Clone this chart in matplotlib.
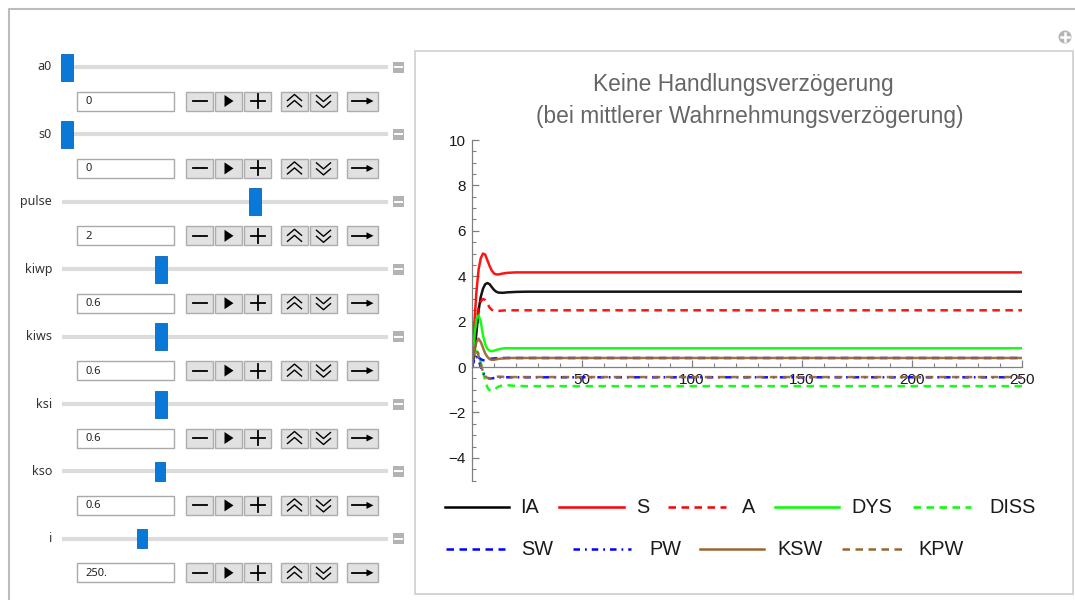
import matplotlib
matplotlib.use("Agg")
import matplotlib.pyplot as plt
from matplotlib.patches import Rectangle, Polygon, Circle
from matplotlib.lines import Line2D

# ---------------- data ----------------
t = [0, 1, 2, 3, 4, 5, 6, 7, 8, 9, 10, 11, 12, 14, 16, 20, 25, 30, 40, 250]
IA = [0, 0.5, 1.5, 2.5, 3.1, 3.45, 3.65, 3.7, 3.65, 3.52, 3.4, 3.32, 3.28, 3.27, 3.29, 3.31, 3.32, 3.32, 3.32, 3.32]
S = [0, 1.8, 3.3, 4.3, 4.8, 5.0, 4.95, 4.7, 4.45, 4.25, 4.12, 4.08, 4.08, 4.12, 4.15, 4.17, 4.17, 4.17, 4.17, 4.17]
A = [0, 1.2, 2.0, 2.6, 2.9, 3.0, 2.95, 2.8, 2.62, 2.52, 2.47, 2.46, 2.47, 2.49, 2.5, 2.5, 2.5, 2.5, 2.5, 2.5]
DYS = [0, 1.3, 2.1, 2.28, 2.0, 1.4, 1.0, 0.8, 0.72, 0.7, 0.72, 0.75, 0.78, 0.82, 0.83, 0.83, 0.83, 0.83, 0.83, 0.83]
DISS = [0, 0.5, 0.7, 0.6, 0.2, -0.2, -0.6, -0.9, -1.02, -1.05, -1.0, -0.93, -0.86, -0.8, -0.8, -0.83, -0.84, -0.84, -0.84, -0.84]
SW = [0, 0.35, 0.45, 0.42, 0.35, 0.3, 0.3, 0.32, 0.35, 0.37, 0.38, 0.39, 0.4, 0.4, 0.4, 0.4, 0.4, 0.4, 0.4, 0.4]
PW = [0, 0.4, 0.45, 0.3, 0.0, -0.25, -0.4, -0.47, -0.5, -0.5, -0.48, -0.46, -0.45, -0.45, -0.45, -0.45, -0.45, -0.45, -0.45, -0.45]
KSW = [0, 0.7, 1.1, 1.25, 1.1, 0.85, 0.6, 0.45, 0.35, 0.32, 0.32, 0.34, 0.36, 0.38, 0.4, 0.4, 0.4, 0.4, 0.4, 0.4]
KPW = [0, 0.9, 0.8, 0.5, 0.1, -0.2, -0.4, -0.48, -0.5, -0.5, -0.47, -0.44, -0.42, -0.43, -0.44, -0.44, -0.44, -0.44, -0.44, -0.44]

series_names = ["IA", "S", "A", "DYS", "DISS", "SW", "PW", "KSW", "KPW"]
x_ticks = [50, 100, 150, 200, 250]
y_ticks = [-4, -2, 0, 2, 4, 6, 8, 10]

title_lines = ["Keine Handlungsverzögerung", "(bei mittlerer Wahrnehmungsverzögerung)"]

slider_labels = ["a0", "s0", "pulse", "kiwp", "kiws", "ksi", "kso", "i"]
slider_values = ["0", "0", "2", "0.6", "0.6", "0.6", "0.6", "250."]
slider_fracs = [0.0, 0.0, 0.597, 0.298, 0.298, 0.298, 0.295, 0.238]

# ---------------- styles ----------------
BROWN = "#996633"
DASH = (0, (3, 2.2))
DASHDOT = (0, (2.6, 2.0, 0.7, 2.0))
styles = {
    "IA": dict(color="black", ls="-"),
    "S": dict(color="#ff0000", ls="-"),
    "A": dict(color="#ff0000", ls=DASH),
    "DYS": dict(color="#00ff00", ls="-"),
    "DISS": dict(color="#00ff00", ls=DASH),
    "SW": dict(color="#0000ff", ls=DASH),
    "PW": dict(color="#0000ff", ls=DASHDOT),
    "KSW": dict(color=BROWN, ls="-"),
    "KPW": dict(color=BROWN, ls=DASH),
}
data = {"IA": IA, "S": S, "A": A, "DYS": DYS, "DISS": DISS,
        "SW": SW, "PW": PW, "KSW": KSW, "KPW": KPW}

W, H = 1075, 600
fig = plt.figure(figsize=(W / 100, H / 100), dpi=100)
fig.patch.set_facecolor("white")

# background "pixel" axes for the UI
bg = fig.add_axes([0, 0, 1, 1], zorder=0)
bg.set_xlim(0, W)
bg.set_ylim(H, 0)
bg.axis("off")

# outer frame
bg.plot([8.5, 8.5, W], [H, 8.5, 8.5], color="#bcbcbc", lw=1.5, solid_capstyle="butt")

# plot panel frame (with slight shadow)
bg.add_patch(Rectangle((416, 52), 658, 543, facecolor="#e6e6e6", edgecolor="none"))
bg.add_patch(Rectangle((414.5, 50.5), 658, 543, facecolor="white", edgecolor="#cfcfcf", lw=1.2))

# plus icon
bg.add_patch(Circle((1065, 37), 6.5, facecolor="#b4b4b4", edgecolor="none"))
bg.plot([1061, 1069], [37, 37], color="white", lw=1.8)
bg.plot([1065, 1065], [33, 41], color="white", lw=1.8)

UI_FONT = ["Noto Sans", "DejaVu Sans"]
row_y0, row_dy = 67, 67.4
for k, (lab, val, fr) in enumerate(zip(slider_labels, slider_values, slider_fracs)):
    ys = row_y0 + k * row_dy
    bg.text(52, ys, lab, ha="right", va="center", fontsize=9, color="#333333", family=UI_FONT)
    # track
    bg.plot([62, 388], [ys, ys], color="#dcdcdc", lw=3, solid_capstyle="butt", zorder=1)
    # thumb
    small = lab in ("kso", "i")
    tw, th = (10, 19) if small else (12, 27)
    cx = 67 + fr * (382 - 67)
    bg.add_patch(Rectangle((cx - tw / 2, ys - th / 2), tw, th, facecolor="#0a78d7",
                           edgecolor="#0a66b8", lw=0.6, zorder=3))
    # minus icon at right
    bg.add_patch(Rectangle((392.5, ys - 5.5), 11, 11, facecolor="#b3b3b3", edgecolor="none", zorder=2))
    bg.plot([394.5, 401.5], [ys, ys], color="white", lw=1.4, zorder=3)
    # value text box
    by0, bh = ys + 24.5, 19
    bg.add_patch(Rectangle((77, by0), 97, bh, facecolor="white", edgecolor="#a9a9a9", lw=1, zorder=2))
    bg.text(85, by0 + bh / 2 + 0.5, val, ha="left", va="center", fontsize=8,
            color="#222222", family=UI_FONT, zorder=3)
    cy = by0 + bh / 2
    buttons = [(186, 213), (215, 242), (244, 271), (281, 308), (310, 337), (347, 378)]
    for (x0, x1) in buttons:
        bg.add_patch(Rectangle((x0, by0), x1 - x0, bh, facecolor="#e1e1e1", edgecolor="#adadad",
                               lw=1, zorder=2))
    # minus
    c = (186 + 213) / 2
    bg.plot([c - 7, c + 7], [cy, cy], color="black", lw=1.3, zorder=3)
    # play
    c = (215 + 242) / 2
    bg.add_patch(Polygon([(c - 4, cy - 6), (c - 4, cy + 6), (c + 5, cy)], closed=True,
                         facecolor="black", edgecolor="none", zorder=3))
    # plus
    c = (244 + 271) / 2
    bg.plot([c - 7, c + 7], [cy, cy], color="black", lw=1.3, zorder=3)
    bg.plot([c, c], [cy - 7, cy + 7], color="black", lw=1.3, zorder=3)
    # double up
    c = (281 + 308) / 2
    for dy in (-2.5, 3.5):
        bg.plot([c - 7, c, c + 7], [cy + dy + 2, cy + dy - 4, cy + dy + 2], color="black", lw=1.0, zorder=3)
    # double down
    c = (310 + 337) / 2
    for dy in (-3.5, 2.5):
        bg.plot([c - 7, c, c + 7], [cy + dy - 2, cy + dy + 4, cy + dy - 2], color="black", lw=1.0, zorder=3)
    # arrow
    c = (347 + 378) / 2
    bg.plot([c - 11, c + 6], [cy, cy], color="black", lw=1.3, zorder=3)
    bg.add_patch(Polygon([(c + 4, cy - 3.5), (c + 4, cy + 3.5), (c + 11, cy)], closed=True,
                         facecolor="black", edgecolor="none", zorder=3))

# ---------------- plot axes ----------------
PLOT_FONT = ["Liberation Sans", "DejaVu Sans"]
x_left, x_right, y_top, y_bot = 472, 1022, 140, 480.6
ax = fig.add_axes([x_left / W, 1 - y_bot / H, (x_right - x_left) / W, (y_bot - y_top) / H], zorder=2)
ax.patch.set_alpha(0)

for name in series_names:
    st = styles[name]
    ax.plot(t, data[name], color=st["color"], ls=st["ls"], lw=1.8, alpha=0.92)

ax.set_xlim(0, 250)
ax.set_ylim(-5, 10)
for sp in ("top", "right"):
    ax.spines[sp].set_visible(False)
ax.spines["bottom"].set_position(("data", 0))
for sp in ("bottom", "left"):
    ax.spines[sp].set_color("#808080")
    ax.spines[sp].set_linewidth(0.9)

ax.set_xticks(x_ticks)
ax.set_xticks(list(range(10, 251, 10)), minor=True)
ax.set_yticks(y_ticks)
ax.set_yticks([v / 2 for v in range(-10, 21)], minor=True)
ax.set_xticklabels([str(v) for v in x_ticks])
ax.set_yticklabels([str(v).replace("-", "\u2212") for v in y_ticks])
ax.tick_params(which="major", direction="in", length=5, width=0.9, color="#808080",
               labelsize=11, labelcolor="#1a1a1a", pad=4.5)
ax.tick_params(which="minor", direction="in", length=2.6, width=0.8, color="#808080")
for lbl in ax.get_xticklabels() + ax.get_yticklabels():
    lbl.set_family(PLOT_FONT)

# title
fig.text(743 / W, 1 - 85 / H, title_lines[0], ha="center", va="center", fontsize=16.4,
         color="#666666", family=PLOT_FONT)
fig.text(750 / W, 1 - 116 / H, title_lines[1], ha="center", va="center", fontsize=16.4,
         color="#666666", family=PLOT_FONT)

# legend (manual layout)
legend_layout = {
    "IA": (445, 509, 520, 507), "S": (559, 624, 636, 507), "A": (668, 726, 742, 507),
    "DYS": (775, 839, 851, 507), "DISS": (913, 971, 989, 507),
    "SW": (446, 505, 521, 549), "PW": (573, 631, 649, 549), "KSW": (700, 764, 777, 549),
    "KPW": (842, 902, 918, 549),
}
for name in series_names:
    x0, x1, xt, yy = legend_layout[name]
    st = styles[name]
    bg.add_line(Line2D([x0, x1], [yy, yy], color=st["color"], ls=st["ls"], lw=1.8, zorder=4))
    bg.text(xt, yy + 0.5, name, ha="left", va="center", fontsize=14.3, color="#1a1a1a",
            family=PLOT_FONT, zorder=4)

fig.savefig("out.png", dpi=100, facecolor="white")
